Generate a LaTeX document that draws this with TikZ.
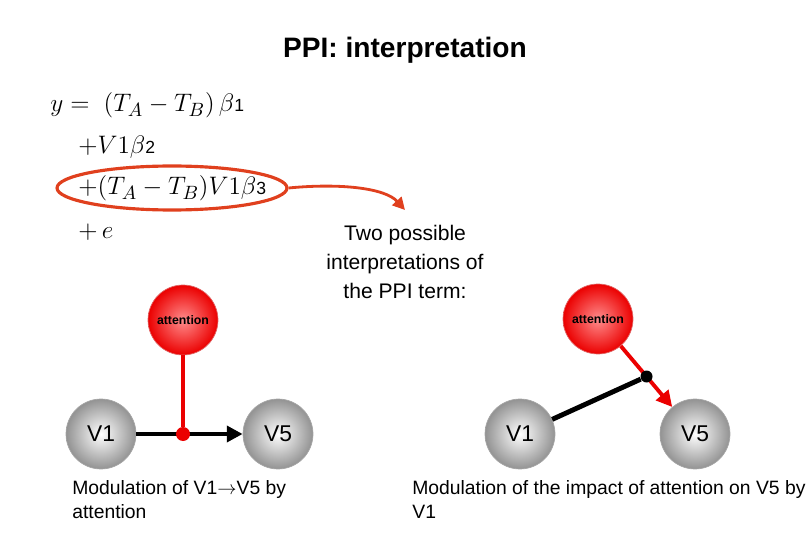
\documentclass[tikz,border=0pt]{standalone}
\usepackage{fontspec}
\setmainfont{Liberation Sans}
\usetikzlibrary{arrows.meta,shapes.geometric,calc}

\definecolor{ringred}{RGB}{224,64,30}
\definecolor{ballred}{RGB}{235,0,0}

\tikzset{
  graynode/.style={circle, minimum size=1.4cm, inner sep=0pt, draw=gray!70,
    inner color=white, outer color=gray!85, font=\fontsize{13}{15}\selectfont},
  attnode/.style={circle, minimum size=1.4cm, inner sep=0pt, draw=red!80!black!60,
    inner color=red!45!white, outer color=ballred, font=\fontsize{7}{8}\selectfont\bfseries},
  eqline/.style={anchor=base west, inner sep=0pt, font=\fontsize{15}{18}\selectfont},
  caption/.style={anchor=north west, inner sep=0pt, align=left,
    font=\fontsize{11}{13.6}\selectfont},
}
\newcommand{\idx}[1]{{\fontsize{10}{11}\selectfont #1}}

\begin{document}
\begin{tikzpicture}[x=0.02cm, y=-0.02cm]
  \useasboundingbox (0,0) rectangle (810,540);

  % Title
  \node (title) at (405,50) {\fontsize{16}{19}\selectfont\bfseries PPI: interpretation};

  % Model equation
  \node[eqline] (eqA) at (50,112) {$y =\; (T_A - T_B)\,\beta$\idx{1}};
  \node[eqline] (eqB) at (78,154) {$+V1\beta$\idx{2}};
  \node[eqline] (eqC) at (78,195) {$+(T_A - T_B)V1\beta$\idx{3}};
  \node[eqline] (eqD) at (78,238) {$+\,e$};

  % Ring round the PPI term
  \node[ellipse, draw=ringred, line width=1.8pt, minimum width=4.6cm,
        minimum height=0.88cm] (ring) at (172,188) {};
  \coordinate (tip) at (405,210);
  \draw[ringred, line width=1.6pt, -{Triangle[length=7pt,width=7pt]}]
    (ring.east) .. controls (340,183) and (385,188) .. (tip);

  \node[align=center, font=\fontsize{12}{16.5}\selectfont] (note) at (405,262)
    {Two possible\\interpretations of\\the PPI term:};

  % Left: attention modulates V1 -> V5
  \node[attnode] (attL) at (183,320) {attention};
  \node[graynode] (V1L) at (101,434) {V1};
  \node[graynode] (V5L) at (278,434) {V5};
  \draw[line width=2.4pt, -{Triangle[length=9pt,width=9pt]}] (V1L) -- (V5L);
  \node[circle, fill=ballred, minimum size=0.28cm, inner sep=0pt] (hubL) at (attL |- V1L) {};
  \draw[ballred, line width=2.6pt] (attL) -- (hubL);

  % Right: V1 modulates attention -> V5
  \node[attnode] (attR) at (598,319) {attention};
  \node[graynode] (V1R) at (520,434) {V1};
  \node[graynode] (V5R) at (695,434) {V5};
  \coordinate (midR) at ($(attR)!0.5!(V5R)$);
  \draw[ballred, line width=2.2pt, -{Triangle[length=9pt,width=9pt]}] (attR) -- (V5R);
  \node[circle, fill=black, minimum size=0.24cm, inner sep=0pt] (hubR) at (midR) {};
  \draw[line width=2.8pt] (V1R) -- (hubR);

  % Captions
  \node[caption] (capL) at (72,480) {Modulation of V1$\rightarrow$V5 by\\attention};
  \node[caption] (capR) at (412,480) {Modulation of the impact of attention on V5 by\\V1};
\end{tikzpicture}
\end{document}
